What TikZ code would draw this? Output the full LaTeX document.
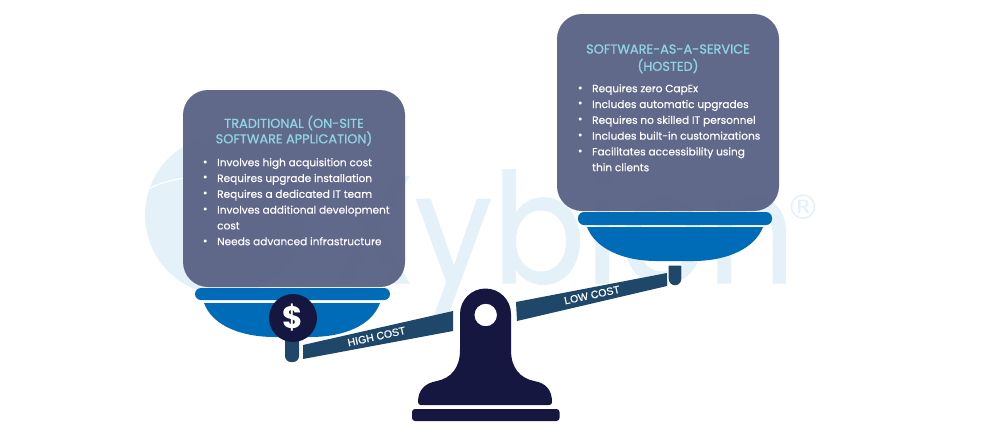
\documentclass[tikz,border=0pt]{standalone}
\usepackage{fontspec}
\setmainfont{Poppins}
\newfontfamily\cardfont{Poppins}[RawFeature={embolden=0.35}]
\newfontfamily\headfont{Poppins}[RawFeature={embolden=0.8}]
\newfontfamily\beamfont{Liberation Sans}[RawFeature={embolden=0.5}]
\newfontfamily\regfont{DejaVu Sans}
\usepackage{xcolor}
\usetikzlibrary{positioning}
\definecolor{wmblue}{HTML}{E5F1F8}
\definecolor{cardgrey}{HTML}{5B6385}
\definecolor{panblue}{HTML}{006BB6}
\definecolor{beamblue}{HTML}{1F4769}
\definecolor{basenavy}{HTML}{151740}
\definecolor{headcyan}{HTML}{8FD4E6}
\tikzset{
	card/.style={fill=cardgrey,fill opacity=.96,rounded corners=25pt},
	heading/.style={text=headcyan,font=\headfont\fontsize{12.9}{14}\selectfont,inner sep=0pt},
	listline/.style={text=white,font=\cardfont\fontsize{10.55}{12}\selectfont,anchor=north west,inner sep=0pt,text height=8pt,text depth=2.5pt},
	nextline/.style={below=4.9pt of #1.south west,anchor=north west},
	dotted line/.style={label={[text=white,inner sep=0pt,label distance=9pt,font=\fontsize{12}{12}\selectfont]left:\textbullet}},
	beamtext/.style={text=white,font=\beamfont\fontsize{10.6}{12}\selectfont,inner sep=0pt},
}
\begin{document}
\begin{tikzpicture}[x=1pt,y=-1pt]
	\useasboundingbox (0,0) rectangle (1005,432);
	% watermark
	\fill[wmblue] (225,215) circle (80);
	\draw[white,line width=1.2] (150,188) .. controls (160,183) and (172,180) .. (184,178);
	\node[text=wmblue,font=\headfont\fontsize{153}{153}\selectfont,anchor=base west,inner sep=0pt] (mark) at (329,283) {\scalebox{.9}[1]{Xybion}};
	\node[text=wmblue,font=\regfont\fontsize{34}{34}\selectfont,inner sep=0pt] (reg) at (803,207) {®};
	%
	% left pan
	\fill[card] (183,90) rectangle (405,287);
	\fill[panblue,rounded corners=6pt] (195,288) rectangle (390,300);
	\fill[panblue] (204,303) -- (380,303) .. controls (372,325) and (345,337) .. (310,337) -- (275,337) .. controls (240,337) and (212,325) .. (204,303) -- cycle;
	\fill[beamblue,rounded corners=6pt] (285,330) -- (299,330) -- (299,362) -- (285,362) -- cycle;
	\node[circle,fill=basenavy,minimum size=48pt,inner sep=0pt] (coin) at (293,318) {};
	\node[text=white,font=\fontsize{31}{31}\selectfont\bfseries] (dollar) at (coin) {\$};
	%
	% right pan
	\fill[card] (557,14) rectangle (779,211);
	\fill[panblue,rounded corners=6pt] (578,212) rectangle (772,225);
	\fill[panblue] (587,227) -- (763,227) .. controls (755,248) and (728,261) .. (693,261) -- (657,261) .. controls (622,261) and (595,248) .. (587,227) -- cycle;
	%
	% beam
	\fill[beamblue] (303,345) -- (453,311) -- (453,331) -- (303,359) -- cycle;
	\fill[beamblue] (516,302) -- (667,273) -- (667,286) -- (517,321) -- cycle;
	\fill[beamblue,draw=white,line width=1.2pt] (668,265) -- (682,265) -- (682,279) arc[start angle=0,end angle=180,radius=7] -- cycle;
	\node[beamtext,rotate=12.5] (high) at (376.5,336.5) {HIGH COST};
	\node[beamtext,rotate=12] (low) at (592,295) {LOW COST};
	%
	% stand
	\fill[basenavy,even odd rule] (460,314) arc[start angle=180,end angle=360,radius=25.5]
		-- (511,350) .. controls (511,368) and (520,378) .. (534,381)
		.. controls (546,383) and (552,390) .. (552,402)
		.. controls (552,404) and (551,405) .. (549,405) -- (421,405)
		.. controls (419,405) and (418,404) .. (418,402)
		.. controls (418,390) and (425,383) .. (437,381)
		.. controls (451,378) and (460,368) .. (460,350) -- cycle
		(497,315) arc[start angle=0,end angle=360,radius=11.3];
	\fill[basenavy,rounded corners=3pt] (412,409) rectangle (559.5,421);
	%
	% left card text
	\node[heading] (lefthead) at (294,123) {TRADITIONAL (ON-SITE};
	\node[heading] (lefthead2) at (294,138.5) {SOFTWARE APPLICATION)};
	\node[listline,dotted line] (l1) at (217,158) {Involves high acquisition cost};
	\node[listline,dotted line,nextline=l1] (l2) {Requires upgrade installation};
	\node[listline,dotted line,nextline=l2] (l3) {Requires a dedicated IT team};
	\node[listline,dotted line,nextline=l3] (l4) {Involves additional development};
	\node[listline,nextline=l4] (l5) {cost};
	\node[listline,dotted line,nextline=l5] (l6) {Needs advanced infrastructure};
	%
	% right card text
	\node[heading] (righthead) at (668,49) {SOFTWARE-AS-A-SERVICE};
	\node[heading] (righthead2) at (668,66) {(HOSTED)};
	\node[listline,dotted line] (r1) at (592,84) {Requires zero CapEx};
	\node[listline,dotted line,nextline=r1] (r2) {Includes automatic upgrades};
	\node[listline,dotted line,nextline=r2] (r3) {Requires no skilled IT personnel};
	\node[listline,dotted line,nextline=r3] (r4) {Includes built-in customizations};
	\node[listline,dotted line,nextline=r4] (r5) {Facilitates accessibility using};
	\node[listline,nextline=r5] (r6) {thin clients};
\end{tikzpicture}
\end{document}
